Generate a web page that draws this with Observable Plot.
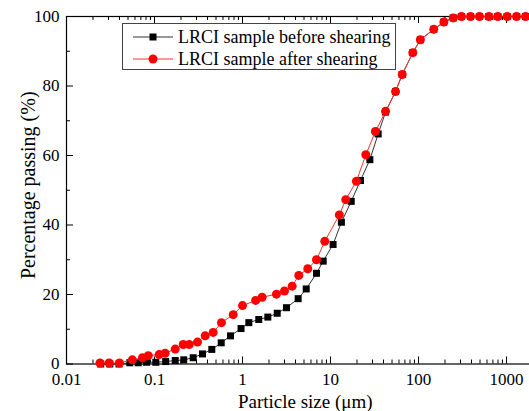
<!DOCTYPE html>
<html><head><meta charset="utf-8">
<script src="https://cdn.jsdelivr.net/npm/d3@7"></script>
<script src="https://cdn.jsdelivr.net/npm/@observablehq/plot@0.6"></script>
<style>
html,body{margin:0;padding:0;background:#fff;overflow:hidden;}
#wrap{position:relative;width:529px;height:411px;overflow:hidden;}
#wrap svg{max-width:none !important;font-family:"Liberation Serif",serif !important;}
#wrap svg text{font-family:"Liberation Serif",serif !important;}
#legend{position:absolute;left:122px;top:23px;}
</style></head>
<body><div id="wrap"></div>
<script>
// ---- data ----
const seriesNames = ["LRCI sample before shearing", "LRCI sample after shearing"];
const seriesColors = ["#000000", "#ff0000"];
const lineColors = ["#333333", "#ff3030"];

const sizeBefore = [0.0245,0.0311,0.0395,0.0524,0.0653,0.0812,0.1035,0.134,0.172,0.215,
  0.275,0.351,0.448,0.573,0.731,0.962,1.18,1.53,1.94,2.48,
  3.16,4.29,5.3,6.93,8.26,10.7,13.3,17.2,21.9,28.0,
  34.8,42.2,54.8,65.3,86.1,105,149,194,248,308,390,493,630,796,1019,1300,1645];
const passBefore = [0,0,0,0.35,0.35,0.5,0.5,0.7,1.0,1.2,
  1.8,2.9,4.2,6.1,8.1,10.2,11.9,12.8,13.5,14.6,
  16.2,18.8,21.6,26.1,29.6,34.4,40.8,46.8,52.8,58.8,
  66.2,72.5,78.4,83.3,89.6,93.3,96.3,98.4,99.6,100,100,100,100,100,100,100,100];

const sizeAfter = [0.024,0.0305,0.040,0.056,0.073,0.085,0.113,0.132,0.172,0.212,
  0.248,0.308,0.377,0.464,0.577,0.784,1.0,1.41,1.67,2.43,
  3.0,3.67,4.36,5.52,6.93,8.61,12.6,14.9,19.7,25.2,
  32.4,42.2,54.8,65.3,86.1,105,149,194,248,308,390,493,630,796,1019,1300,1645];
const passAfter = [0.3,0.3,0.3,1.2,1.8,2.4,2.7,3.1,4.3,5.6,
  5.6,6.3,8.1,9.1,11.9,14.2,16.8,18.3,19.2,20.1,
  21.0,22.4,25.5,27.4,30.0,35.3,42.9,47.3,52.6,60.2,
  66.9,72.7,78.4,83.3,89.6,93.3,96.3,98.4,99.6,100,100,100,100,100,100,100,100];

const xTicks = [0.01, 0.1, 1, 10, 100, 1000];
const xTickLabels = ["0.01", "0.1", "1", "10", "100", "1000"];
const yTicks = [0, 20, 40, 60, 80, 100];
const yTickLabels = ["0", "20", "40", "60", "80", "100"];
const yMinor = [10, 30, 50, 70, 90];
const xDomain = [0.01, 2000];
const yDomain = [0, 100];

// ---- build tables ----
const before = sizeBefore.map((s, i) => ({size: s, pass: passBefore[i]}));
const after = sizeAfter.map((s, i) => ({size: s, pass: passAfter[i]}));
const xLab = xTicks.map((v, i) => ({v, t: xTickLabels[i]}));
const yLab = yTicks.map((v, i) => ({v, t: yTickLabels[i]}));
const xMinor = [];
for (let e = -2; e <= 3; e++) for (let k = 2; k <= 9; k++) {
  const v = k * Math.pow(10, e);
  if (v <= xDomain[1]) xMinor.push(+v.toPrecision(3));
}

const W = 533, H = 411, mL = 66, mR = 0.5, mT = 16, mB = 47.5;
const iW = W - mL - mR, iH = H - mT - mB;
const font = "Liberation Serif";

const chart = Plot.plot({
  width: W, height: H,
  marginLeft: mL, marginRight: mR, marginTop: mT, marginBottom: mB,
  style: {fontFamily: font, fontSize: "17px", color: "#000", background: "#fff"},
  x: {type: "log", domain: xDomain, axis: null},
  y: {domain: yDomain, axis: null},
  marks: [
    // tick labels
    Plot.text(xLab, {x: "v", text: "t", frameAnchor: "bottom", lineAnchor: "bottom", dy: 21, fontSize: 17, fontFamily: font, fill: "#000"}),
    Plot.text(yLab, {y: "v", text: "t", frameAnchor: "left", textAnchor: "end", lineAnchor: "middle", dx: -7, fontSize: 17, fontFamily: font, fill: "#000"}),
    // inward ticks
    Plot.tickX(xTicks, {x: d => d, insetTop: iH - 7, stroke: "#000"}),
    Plot.tickX(xMinor, {x: d => d, insetTop: iH - 4, stroke: "#000"}),
    Plot.tickX(xTicks, {x: d => d, insetBottom: iH - 7, stroke: "#000"}),
    Plot.tickX(xMinor, {x: d => d, insetBottom: iH - 4, stroke: "#000"}),
    Plot.tickY(yTicks, {y: d => d, insetRight: iW - 7, stroke: "#000"}),
    Plot.tickY(yMinor, {y: d => d, insetRight: iW - 4, stroke: "#000"}),
    Plot.frame({stroke: "#000", strokeWidth: 1.2}),
    // data
    Plot.line(before, {x: "size", y: "pass", stroke: lineColors[0], strokeWidth: 1}),
    Plot.dot(before, {x: "size", y: "pass", symbol: "square", r: 3.95, fill: seriesColors[0]}),
    Plot.line(after, {x: "size", y: "pass", stroke: lineColors[1], strokeWidth: 1}),
    Plot.dot(after, {x: "size", y: "pass", symbol: "circle", r: 4.5, fill: seriesColors[1]}),
    // axis titles
    Plot.text(["Particle size (μm)"], {frameAnchor: "bottom", textAnchor: "middle", dy: 44, dx: 5.5, lineAnchor: "bottom", fontSize: 19, fontFamily: font, fill: "#000"}),
    Plot.text(["Percentage passing (%)"], {frameAnchor: "left", textAnchor: "middle", rotate: -90, dx: -32, dy: -5, lineAnchor: "bottom", fontSize: 20, fontFamily: font, fill: "#000"})
  ]
});
const wrap = document.getElementById("wrap");
wrap.appendChild(chart);

// legend overlay
const lw = 273, lh = 46;
const leg = d3.create("svg").attr("id", "legend").attr("width", lw + 1).attr("height", lh + 1)
  .style("font-family", font).style("font-size", "18px");
leg.append("rect").attr("x", 0.5).attr("y", 0.5).attr("width", lw).attr("height", lh)
  .attr("fill", "#fff").attr("stroke", "#444").attr("stroke-width", 1);
seriesNames.forEach((name, i) => {
  const cy = 14 + i * 22;
  leg.append("line").attr("x1", 11).attr("x2", 51).attr("y1", cy).attr("y2", cy)
    .attr("stroke", lineColors[i]).attr("stroke-width", 1);
  if (i === 0) {
    leg.append("rect").attr("x", 31 - 3.5).attr("y", cy - 3.5).attr("width", 7).attr("height", 7).attr("fill", seriesColors[i]);
  } else {
    leg.append("circle").attr("cx", 31).attr("cy", cy).attr("r", 4.5).attr("fill", seriesColors[i]);
  }
  leg.append("text").attr("x", 56).attr("y", cy).attr("dy", "0.32em").attr("fill", "#000").text(name);
});
wrap.appendChild(leg.node());
</script>
</body></html>
